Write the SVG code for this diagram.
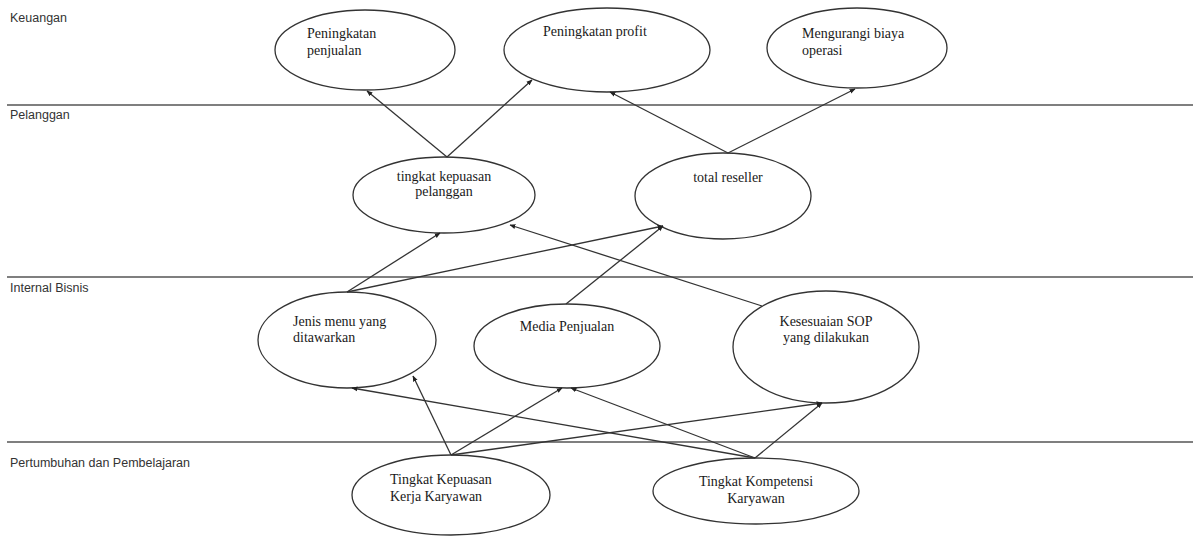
<svg xmlns="http://www.w3.org/2000/svg" width="1193" height="539" viewBox="0 0 1193 539">
  <style>
    .lane { font-family: "Liberation Sans", Arial, sans-serif; font-size: 12.5px; fill: #333; }
    .sep { stroke: #555; stroke-width: 1.5; }
    .node ellipse { fill: #fff; stroke: #333; stroke-width: 1.3; }
    .node text { font-family: "Liberation Serif", "Times New Roman", serif; font-size: 14px; fill: #1a1a1a; }
    .mid { text-anchor: middle; }
    .edge { stroke: #333; stroke-width: 1.3; fill: none; marker-end: url(#head); }
  </style>
  <defs>
    <marker id="head" viewBox="0 0 10 10" refX="9" refY="5" markerWidth="6" markerHeight="6" markerUnits="userSpaceOnUse" orient="auto">
      <path d="M0,1 L10,5 L0,9 Z" fill="#222"/>
    </marker>
  </defs>
  <rect width="1193" height="539" fill="#fff"/>

  <!-- perspective lanes -->
  <g id="lanes">
    <line class="sep" x1="7" y1="105" x2="1193" y2="105"/>
    <line class="sep" x1="7" y1="277" x2="1193" y2="277"/>
    <line class="sep" x1="7" y1="442" x2="1193" y2="442"/>
    <text class="lane" x="10" y="22">Keuangan</text>
    <text class="lane" x="10" y="119">Pelanggan</text>
    <text class="lane" x="10" y="292">Internal Bisnis</text>
    <text class="lane" x="10" y="467">Pertumbuhan dan Pembelajaran</text>
  </g>

  <g id="peningkatan-penjualan" class="node">
    <ellipse cx="365" cy="50" rx="90" ry="40"/>
    <text x="307" y="38">Peningkatan</text>
    <text x="307" y="55">penjualan</text>
  </g>
  <g id="peningkatan-profit" class="node">
    <ellipse cx="607" cy="50" rx="103" ry="42"/>
    <text x="543" y="36">Peningkatan profit</text>
  </g>
  <g id="mengurangi-biaya" class="node">
    <ellipse cx="857" cy="48" rx="90" ry="40"/>
    <text x="802" y="38">Mengurangi biaya</text>
    <text x="802" y="55">operasi</text>
  </g>

  <g id="kepuasan-pelanggan" class="node">
    <ellipse cx="444" cy="195" rx="91" ry="38"/>
    <text class="mid" x="444" y="181">tingkat kepuasan</text>
    <text class="mid" x="444" y="196">pelanggan</text>
  </g>
  <g id="total-reseller" class="node">
    <ellipse cx="723" cy="196" rx="88" ry="43"/>
    <text class="mid" x="728" y="182">total reseller</text>
  </g>

  <g id="jenis-menu" class="node">
    <ellipse cx="347" cy="340" rx="89" ry="48"/>
    <text x="293" y="326">Jenis menu yang</text>
    <text x="293" y="342">ditawarkan</text>
  </g>
  <g id="media-penjualan" class="node">
    <ellipse cx="567" cy="346" rx="93" ry="42"/>
    <text class="mid" x="567" y="331">Media Penjualan</text>
  </g>
  <g id="kesesuaian-sop" class="node">
    <ellipse cx="826" cy="347" rx="93" ry="56"/>
    <text class="mid" x="826" y="326">Kesesuaian SOP</text>
    <text class="mid" x="826" y="342">yang dilakukan</text>
  </g>

  <g id="kepuasan-kerja" class="node">
    <ellipse cx="451" cy="495" rx="99" ry="40"/>
    <text x="390" y="484">Tingkat Kepuasan</text>
    <text x="390" y="501">Kerja Karyawan</text>
  </g>
  <g id="kompetensi-karyawan" class="node">
    <ellipse cx="756" cy="491" rx="103" ry="33"/>
    <text class="mid" x="756" y="486">Tingkat Kompetensi</text>
    <text class="mid" x="756" y="503">Karyawan</text>
  </g>

  <!-- cause-effect links, drawn over the nodes so every head shows -->
  <g id="connectors">
    <line class="edge" x1="447" y1="157" x2="367" y2="91"/>
    <line class="edge" x1="447" y1="157" x2="532" y2="80"/>
    <line class="edge" x1="728" y1="153" x2="610" y2="92"/>
    <line class="edge" x1="728" y1="153" x2="855" y2="89"/>
    <line class="edge" x1="347" y1="292" x2="440" y2="233"/>
    <line class="edge" x1="347" y1="292" x2="663" y2="226"/>
    <line class="edge" x1="566" y1="304" x2="663" y2="226"/>
    <line class="edge" x1="762" y1="306" x2="510" y2="225"/>
    <line class="edge" x1="451" y1="455" x2="413" y2="376"/>
    <line class="edge" x1="451" y1="455" x2="562" y2="388"/>
    <line class="edge" x1="451" y1="455" x2="822" y2="403"/>
    <line class="edge" x1="755" y1="458" x2="352" y2="388"/>
    <line class="edge" x1="755" y1="458" x2="571" y2="388"/>
    <line class="edge" x1="755" y1="458" x2="822" y2="403"/>
  </g>
</svg>
